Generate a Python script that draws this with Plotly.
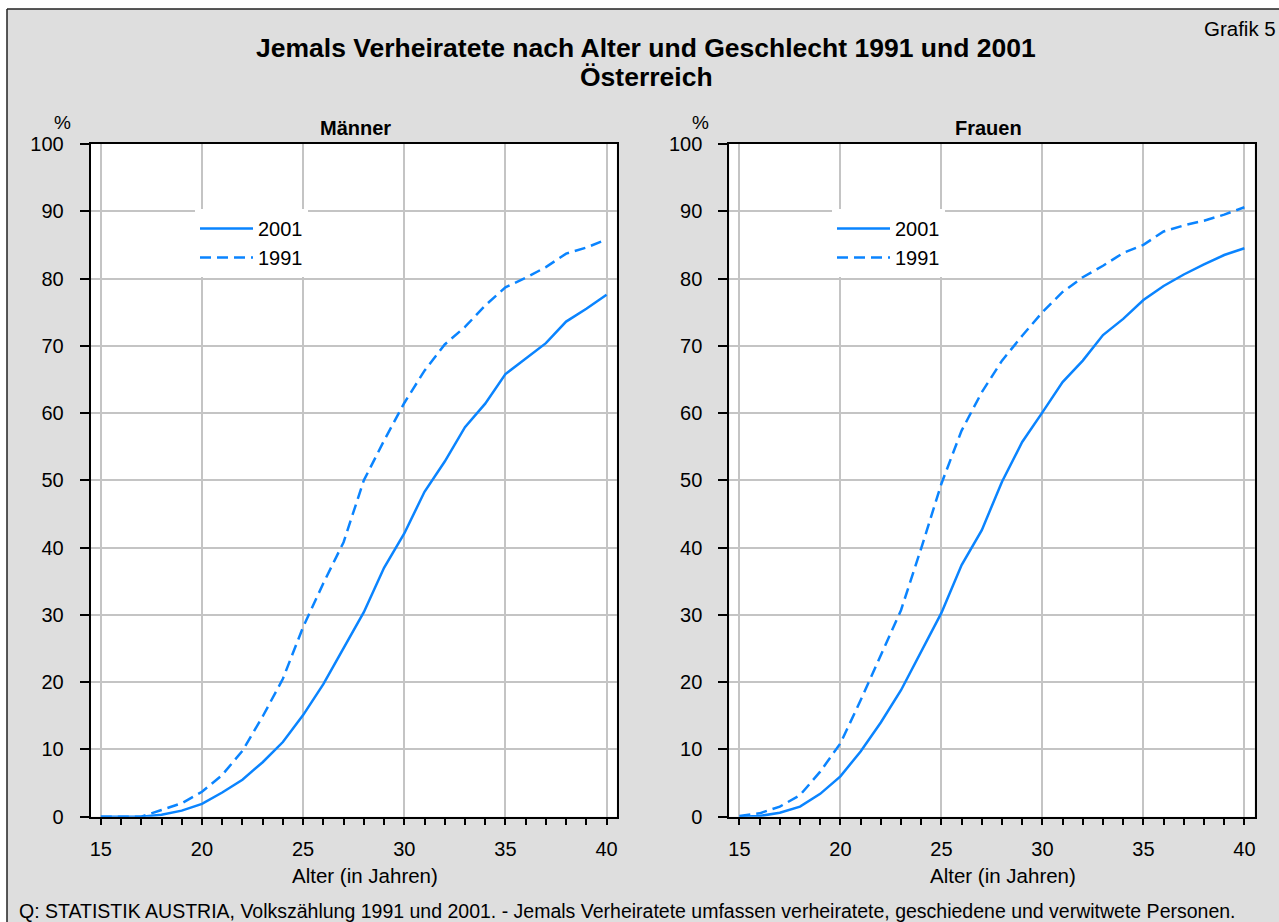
import plotly.graph_objects as go

# ---- data ----
ages = list(range(15, 41))
maenner_2001 = [0, 0, 0, 0.3, 0.9, 1.9, 3.6, 5.5, 8.1, 11.1, 15.1, 19.7, 25.0, 30.4, 37.0,
                42.1, 48.3, 52.8, 57.9, 61.4, 65.8, 68.1, 70.4, 73.6, 75.5, 77.6]
maenner_1991 = [0, 0, 0, 1.0, 2.0, 3.7, 6.2, 9.8, 14.9, 20.5, 28.2, 34.7, 40.8, 50.0, 55.9,
                61.5, 66.3, 70.2, 72.8, 76.0, 78.7, 80.1, 81.7, 83.7, 84.6, 85.8]
frauen_2001 = [0, 0.1, 0.6, 1.5, 3.4, 6.0, 9.7, 14.0, 18.8, 24.5, 30.3, 37.4, 42.6, 49.8, 55.7,
               60.1, 64.6, 67.8, 71.6, 74.0, 76.8, 78.9, 80.6, 82.1, 83.5, 84.5]
frauen_1991 = [0.1, 0.5, 1.5, 3.2, 6.7, 10.9, 17.3, 24.0, 30.7, 39.9, 49.5, 57.4, 63.1, 67.8, 71.5,
               75.0, 78.0, 80.2, 81.9, 83.8, 85.0, 87.0, 87.9, 88.6, 89.5, 90.6]
series_names = ["2001", "1991"]
panel_titles = ["Männer", "Frauen"]
title_lines = ["Jemals Verheiratete nach Alter und Geschlecht 1991 und 2001", "Österreich"]
x_title = "Alter (in Jahren)"
source_text = ("Q: STATISTIK AUSTRIA, Volkszählung 1991 und 2001. - Jemals Verheiratete umfassen "
               "verheiratete, geschiedene und verwitwete Personen.")

W, H = 1279, 922
FONT = "Liberation Sans, Arial, Helvetica, sans-serif"
BLUE = "#0a84ff"
GRID = "#c4c4c4"
FS = 20


def px(x):
    return x / W


def py(y):
    return 1 - y / H


fig = go.Figure()

panels = [
    ("x", "y", "legend", maenner_2001, maenner_1991),
    ("x2", "y2", "legend2", frauen_2001, frauen_1991),
]
for xa, ya, lg, s2001, s1991 in panels:
    fig.add_trace(go.Scatter(x=ages, y=s2001, mode="lines", name=series_names[0],
                             xaxis=xa, yaxis=ya, legend=lg,
                             line=dict(color=BLUE, width=2.5)))
    fig.add_trace(go.Scatter(x=ages, y=s1991, mode="lines", name=series_names[1],
                             xaxis=xa, yaxis=ya, legend=lg,
                             line=dict(color=BLUE, width=2.5, dash="11px,6px")))

xdoms = [[px(90.7), px(616.7)], [px(729.3), px(1254.5)]]
ydom = [py(816.7), py(144)]

common_x = dict(range=[14.5, 40.5], tick0=15, dtick=5, ticks="outside", ticklen=6, tickwidth=1.5,
                tickcolor="black", showgrid=True, gridcolor=GRID, gridwidth=1.5,
                showline=True, linecolor="black", linewidth=2, mirror=True, zeroline=False,
                automargin=False,
                minor=dict(tick0=15, dtick=1, ticks="outside", ticklen=6, tickwidth=1.5,
                           tickcolor="black", showgrid=False),
                tickfont=dict(size=FS, color="black", family=FONT), ticklabelstandoff=7)
common_y = dict(range=[0, 100], tick0=0, dtick=10, ticks="outside", ticklen=9, tickwidth=1.5,
                tickcolor="black", showgrid=True, gridcolor=GRID, gridwidth=1.5,
                showline=True, linecolor="black", linewidth=2, mirror=True, zeroline=False,
                automargin=False,
                tickfont=dict(size=FS, color="black", family=FONT), ticklabelstandoff=12)

legend_common = dict(xanchor="left", yanchor="top", bgcolor="white", borderwidth=0,
                     font=dict(size=FS, color="black", family=FONT), tracegroupgap=0,
                     itemwidth=53)

annotations = [
    dict(text="<b>" + title_lines[0] + "</b>",
         x=px(646), y=py(48), xref="paper", yref="paper", showarrow=False,
         font=dict(size=26.5, color="black", family=FONT), xanchor="center", yanchor="middle"),
    dict(text="<b>" + title_lines[1] + "</b>",
         x=px(646), y=py(77), xref="paper", yref="paper", showarrow=False,
         font=dict(size=26.5, color="black", family=FONT), xanchor="center", yanchor="middle"),
    dict(text="Grafik 5", x=px(1278), y=py(28), xref="paper", yref="paper", showarrow=False,
         font=dict(size=20.5, color="black", family=FONT), xanchor="right", yanchor="middle"),
    dict(text=source_text, x=px(17), y=py(911), xref="paper", yref="paper", showarrow=False,
         font=dict(size=19.5, color="black", family=FONT), xanchor="left", yanchor="middle"),
]
for i, (pct_x, title_x, xt_x) in enumerate([(62, 355, 365), (700, 988, 1003)]):
    annotations.append(dict(text="%", x=px(pct_x), y=py(123), xref="paper", yref="paper",
                            showarrow=False, font=dict(size=19, color="black", family=FONT),
                            xanchor="center", yanchor="middle"))
    annotations.append(dict(text="<b>" + panel_titles[i] + "</b>", x=px(title_x), y=py(128),
                            xref="paper", yref="paper", showarrow=False,
                            font=dict(size=20, color="black", family=FONT),
                            xanchor="center", yanchor="middle"))
    annotations.append(dict(text=x_title, x=px(xt_x), y=py(875), xref="paper", yref="paper",
                            showarrow=False, font=dict(size=20.5, color="black", family=FONT),
                            xanchor="center", yanchor="middle"))

shapes = [
    # white page margin outside the framed chart
    dict(type="rect", xref="paper", yref="paper", x0=0, x1=px(7), y0=0, y1=1,
         fillcolor="white", line=dict(width=0), layer="above"),
    dict(type="rect", xref="paper", yref="paper", x0=0, x1=1, y0=py(9), y1=1,
         fillcolor="white", line=dict(width=0), layer="above"),
    # frame lines
    dict(type="line", xref="paper", yref="paper", x0=px(7), x1=px(7), y0=0, y1=py(9),
         line=dict(color="#222222", width=1.5), layer="above"),
    dict(type="line", xref="paper", yref="paper", x0=px(7), x1=1, y0=py(9), y1=py(9),
         line=dict(color="#222222", width=1.5), layer="above"),
]

fig.update_layout(
    width=W, height=H, autosize=False,
    margin=dict(l=0, r=0, t=0, b=0, pad=0, autoexpand=False),
    paper_bgcolor="#dedede", plot_bgcolor="white",
    font=dict(family=FONT, color="black", size=FS),
    xaxis=dict(domain=xdoms[0], anchor="y", **common_x),
    yaxis=dict(domain=ydom, anchor="x", **common_y),
    xaxis2=dict(domain=xdoms[1], anchor="y2", **common_x),
    yaxis2=dict(domain=ydom, anchor="x2", **common_y),
    legend=dict(x=px(195), y=py(209), **legend_common),
    legend2=dict(x=px(832), y=py(209), **legend_common),
    annotations=annotations,
    shapes=shapes,
    showlegend=True,
)

fig.write_html("out.html", config={"displayModeBar": False},
               post_script="document.body.style.margin='0';document.body.style.overflow='hidden';")
